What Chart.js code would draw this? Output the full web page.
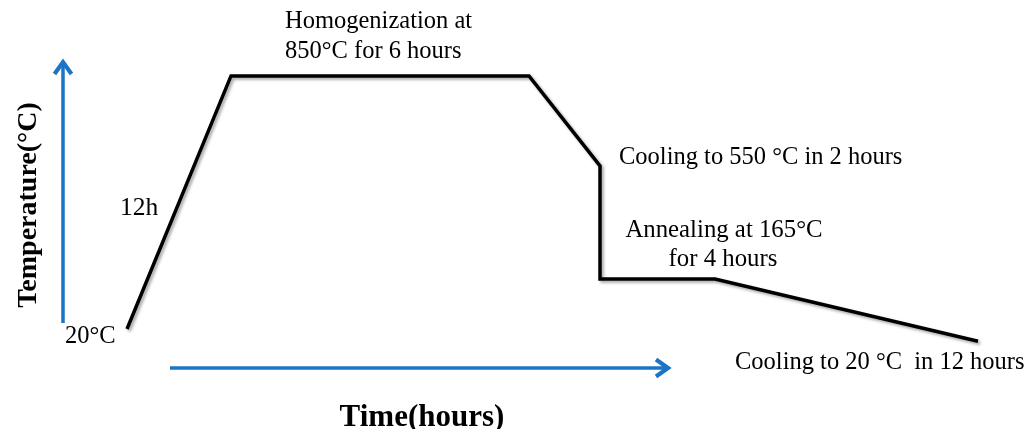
<!DOCTYPE html>
<html>
<head>
<meta charset="utf-8">
<script src="https://cdn.jsdelivr.net/npm/chart.js@4.4.1/dist/chart.umd.min.js"></script>
<style>
html,body{margin:0;padding:0;background:#fff;}
#wrap{width:1028px;height:429px;position:relative;}
</style>
</head>
<body>
<div id="wrap"><canvas id="c"></canvas></div>
<script>
// Schematic heat-treatment profile (positions)
const stageTimes = [12.7, 23.1, 52.9, 60.0, 60.0, 71.5, 97.8];   // schematic time axis units
const stageTemps = [20, 850, 850, 555, 184, 184, -20];          // schematic temperature levels (°C)
const xRange = [0, 102.8];
const yRange = [-308, 1099];
// axis arrows (in data units)
const yArrow = {x: 6.3, from: 40, to: 902};
const xArrow = {y: -108, from: 17.0, to: 67.0};

const labels = [
  {text: 'Homogenization at', x: 285, y: 22, align: 'left', size: 24.5},
  {text: '850\u00B0C for 6 hours', x: 285, y: 52, align: 'left', size: 24.5},
  {text: '12h', x: 120, y: 208, align: 'left', size: 25.5},
  {text: '20\u00B0C', x: 65, y: 337, align: 'left', size: 24.5},
  {text: 'Cooling to 550 \u00B0C in 2 hours', x: 619, y: 158, align: 'left', size: 24.5},
  {text: 'Annealing at 165\u00B0C', x: 724, y: 230, align: 'center', size: 24.8},
  {text: 'for 4 hours', x: 723, y: 259, align: 'center', size: 24.8},
  {text: 'Cooling to 20 \u00B0C  in 12 hours', x: 735, y: 363, align: 'left', size: 24.5}
];
const xTitle = 'Time(hours)';
const yTitle = 'Temperature(\u00B0C)';

const BLUE = '#1b74c5';

const shadowPlugin = {
  id: 'shadow',
  beforeDatasetDraw(chart) {
    const ctx = chart.ctx;
    ctx.save();
    ctx.shadowColor = 'rgba(0,0,0,0.35)';
    ctx.shadowBlur = 3;
    ctx.shadowOffsetX = 2;
    ctx.shadowOffsetY = 2;
  },
  afterDatasetDraw(chart) {
    chart.ctx.restore();
  }
};

function arrowHead(ctx, x, y, dir) {
  const W = 8.5, D = 14;
  ctx.save();
  ctx.lineWidth = 4.2;
  ctx.lineJoin = 'miter';
  ctx.lineCap = 'butt';
  ctx.beginPath();
  if (dir === 'up') {
    ctx.moveTo(x - W, y + D);
    ctx.lineTo(x, y + 2);
    ctx.lineTo(x + W, y + D);
  } else {
    ctx.moveTo(x - D, y - W);
    ctx.lineTo(x - 2, y);
    ctx.lineTo(x - D, y + W);
  }
  ctx.stroke();
  ctx.restore();
}

const decorPlugin = {
  id: 'decor',
  afterDraw(chart) {
    const ctx = chart.ctx;
    const xs = chart.scales.x, ys = chart.scales.y;
    ctx.save();
    // axis arrows
    ctx.strokeStyle = BLUE;
    ctx.lineWidth = 3.5;
    ctx.lineCap = 'butt';
    const ax = xs.getPixelForValue(yArrow.x);
    const ay0 = ys.getPixelForValue(yArrow.from), ay1 = ys.getPixelForValue(yArrow.to);
    ctx.beginPath(); ctx.moveTo(ax, ay0); ctx.lineTo(ax, ay1 + 3); ctx.stroke();
    arrowHead(ctx, ax, ay1, 'up');
    const by = ys.getPixelForValue(xArrow.y);
    const bx0 = xs.getPixelForValue(xArrow.from), bx1 = xs.getPixelForValue(xArrow.to);
    ctx.beginPath(); ctx.moveTo(bx0, by); ctx.lineTo(bx1 - 3, by); ctx.stroke();
    arrowHead(ctx, bx1, by, 'right');

    // annotations
    ctx.fillStyle = '#000';
    ctx.textBaseline = 'middle';
    labels.forEach(l => {
      ctx.font = l.size + 'px "Liberation Serif", "Times New Roman", serif';
      ctx.textAlign = l.align;
      ctx.fillText(l.text, l.x, l.y);
    });
    ctx.font = 'bold 31px "Liberation Serif", "Times New Roman", serif';
    ctx.textAlign = 'center';
    ctx.fillText(xTitle, 422, 418);
    ctx.save();
    ctx.translate(29, 205);
    ctx.rotate(-Math.PI / 2);
    ctx.font = 'bold 28px "Liberation Serif", "Times New Roman", serif';
    ctx.fillText(yTitle, 0, 0);
    ctx.restore();
    ctx.restore();
  }
};

new Chart(document.getElementById('c'), {
  type: 'line',
  data: {
    datasets: [{
      data: stageTimes.map((t, i) => ({x: t, y: stageTemps[i]})),
      borderColor: '#000',
      borderWidth: 3.5,
      pointRadius: 0,
      tension: 0,
      fill: false,
      borderJoinStyle: 'miter',
      borderCapStyle: 'butt'
    }]
  },
  options: {
    responsive: true,
    maintainAspectRatio: false,
    animation: false,
    layout: {padding: 0},
    plugins: {legend: {display: false}, tooltip: {enabled: false}, title: {display: false}},
    scales: {
      x: {type: 'linear', min: xRange[0], max: xRange[1], display: false},
      y: {type: 'linear', min: yRange[0], max: yRange[1], display: false}
    }
  },
  plugins: [shadowPlugin, decorPlugin]
});
</script>
</body>
</html>
